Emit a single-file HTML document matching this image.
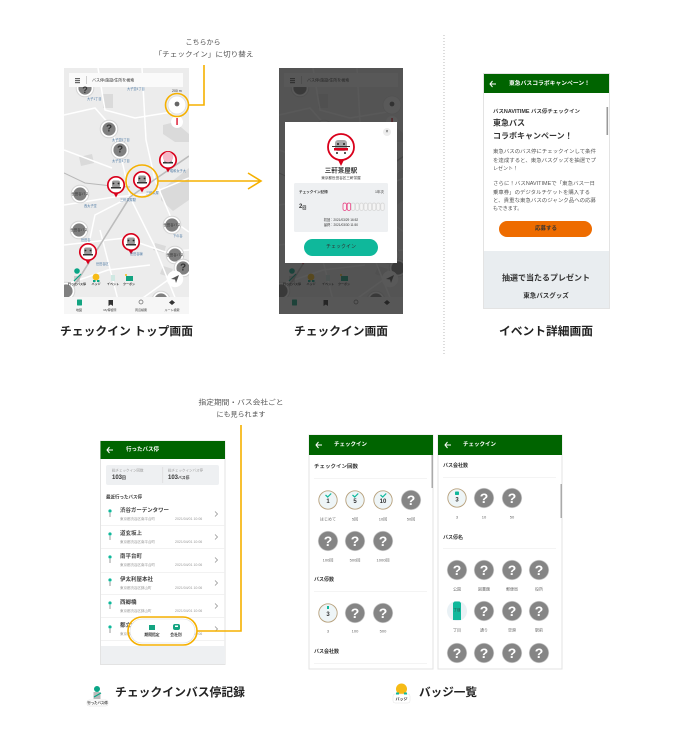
<!DOCTYPE html>
<html lang="ja"><head><meta charset="utf-8"><title>チェックイン</title>
<style>
html,body{margin:0;padding:0;background:#fff;width:674px;height:738px;overflow:hidden}
svg{display:block}
text{font-family:"Liberation Sans","Noto Sans CJK JP",sans-serif;dominant-baseline:central;fill:#333}
.b{font-weight:700}.m{text-anchor:middle}.e{text-anchor:end}
.cap{font-size:11.5px;font-weight:700;fill:#222}
.note{font-size:7px;fill:#555}
.h{font-size:5.5px;font-weight:700;fill:#fff}
.sec{font-size:5px;font-weight:700;fill:#333}
.lb{font-size:4px;fill:#666;text-anchor:middle}
.q{font-size:14px;font-weight:700;fill:#fff;text-anchor:middle}
.ml{font-size:3.2px;fill:#4f7ba5}
.n{font-size:5.5px;font-weight:700;fill:#444}
.s{font-size:3.5px;fill:#999}
.p{font-size:5px;fill:#555}
.y{stroke:#f5b000;fill:none;stroke-width:1.6}
</style></head><body>
<svg width="674" height="738" viewBox="0 0 674 738" xmlns="http://www.w3.org/2000/svg">
<defs>
<clipPath id="c1"><rect x="64" y="68" width="125" height="246"/></clipPath>
<clipPath id="c2"><rect x="279" y="68" width="124" height="246"/></clipPath>
<g id="qb"><circle r="10.2" fill="#eee"/><circle r="9.6" fill="#858585" stroke="#bbb" stroke-width=".6"/></g>
<g id="sb"><circle r="8.8" fill="#fff" stroke="#d5d5d5" stroke-width="1"/><circle r="6.6" fill="#808080"/></g>
<g id="pin"><path d="M-2.5 8L0 12.5L2.5 8z" fill="#d9001b"/><circle r="8.2" fill="#fff" stroke="#d9001b" stroke-width="1.7"/><rect x="-4" y="-4.5" width="8" height="7" rx="2" fill="#999"/><rect x="-5" y="2" width="10" height="1.5" fill="#333"/><circle cx="-2.5" cy="-1.5" r=".9" fill="#222"/><circle cx="2.5" cy="-1.5" r=".9" fill="#222"/></g>
<g id="map">
<rect x="64" y="68" width="125" height="246" fill="#ececec"/>
<g fill="#dadada"><path d="M103 94h10v14h-10z"/><path d="M79 157l13-3 2 9-13 3z"/><path d="M163 125l12-3 14 12v8h-14l-12-8z"/><path d="M161 190l28-22v32l-16 11-12-11z"/><path d="M155 243l11 3-2 7-11-3z"/><path d="M163 266l10 3-4 8-9-3z"/></g>
<g fill="none" stroke="#fff" stroke-width="1.5"><path d="M64 115L95 108L110 125L123 165L130 197L154 245L176 300"/><path d="M64 205L114 197L150 194L189 178"/><path d="M64 245L125 238L165 252L189 250"/><path d="M98 68L105 110L135 118L172 112"/><path d="M130 197L95 215L85 262"/><path d="M142 68L146 140L155 180"/><path d="M64 285L108 270L150 265"/><path d="M155 180L172 220L189 232"/><path d="M112 168L64 150"/><path d="M175 275L140 300"/><path d="M100 230L118 300"/></g>
<path d="M64 173L85 183L112 186L130 187" fill="none" stroke="#b8b8b8" stroke-width="1"/>
<path d="M189 156L154 180L130 197L100 245L73 288" fill="none" stroke="#bcbcbc" stroke-width="1.6"/>
<use href="#sb" x="85" y="88"/><use href="#sb" x="109" y="129"/><use href="#sb" x="120" y="150"/><use href="#sb" x="80" y="194"/><use href="#sb" x="79" y="230"/><use href="#sb" x="172" y="225"/><use href="#sb" x="175" y="255"/><use href="#sb" x="183" y="268"/><use href="#sb" x="161" y="300"/><use href="#sb" x="66" y="291"/>
<use href="#pin" x="168" y="160"/><use href="#pin" x="116" y="185"/><use href="#pin" x="142" y="180"/><use href="#pin" x="131" y="242"/><use href="#pin" x="88" y="252"/>
<circle cx="168" cy="157" r="5.2" fill="#f5b8c8"/>
<rect x="69" y="73" width="114" height="14" fill="#fafafa"/>
<rect x="75" y="78" width="5" height="1.2" fill="#666"/><rect x="75" y="80" width="5" height="1.2" fill="#666"/><rect x="75" y="82" width="5" height="1.2" fill="#666"/><rect x="86" y="76" width=".7" height="8" fill="#bbb"/>
<circle cx="177" cy="105" r="9" fill="#fff" stroke="#ddd" stroke-width=".8"/><circle cx="177" cy="104" r="2.4" fill="#666"/>
<circle cx="177" cy="122" r="6" fill="#fff"/><rect x="176.4" y="118" width="1.3" height="7" fill="#d9001b"/>
<circle cx="175" cy="279" r="8.2" fill="#fff"/><path d="M171 279L179 275L176 283L175 279.5z" fill="#555"/>
<circle cx="77" cy="271" r="2.8" fill="#0aa586"/><rect x="74" y="276" width="6" height="6" fill="#aaa" opacity=".5"/><path d="M74 281L81 274" stroke="#0aa586" stroke-width="1.2"/>
<circle cx="96" cy="277" r="3.4" fill="#f6bb16"/><rect x="93" y="280" width="2.5" height="2" fill="#0aa586"/><rect x="97" y="280" width="2.5" height="2" fill="#0aa586"/>
<rect x="111" y="275" width="4" height="6" fill="#cfe8e2"/>
<rect x="126" y="276" width="7" height="5" fill="#13a481"/><circle cx="126" cy="275" r="1" fill="#f6bb16"/>
<rect x="64" y="297" width="125" height="17" fill="#f6f6f6"/>
<rect x="77" y="299.5" width="5" height="6" rx=".6" fill="#13a481"/><path d="M108.5 300h4.500v6l-2.200-1.500-2.300 1.500z" fill="#333"/>
<circle cx="141" cy="302" r="2" fill="none" stroke="#666" stroke-width=".7"/><path d="M172 300l3 2.500-3 2.500-3-2.500z" fill="#333"/>
</g>
</defs>

<!-- notes top -->
<text x="203" y="43" class="note m">こちらから</text>
<text x="204" y="55" class="note m" textLength="99" lengthAdjust="spacingAndGlyphs">「チェックイン」に切り替え</text>

<!-- Screen 1 -->
<g clip-path="url(#c1)"><use href="#map"/>
<text x="92" y="80" font-size="4" fill="#aaa">バス停/施設/住所を検索</text>
<text x="127" y="89" class="ml">大子堂4丁目</text><text x="87" y="99" class="ml">大子1丁目</text><text x="112" y="140" class="ml">太子堂5丁目</text><text x="112" y="161" class="ml">太子堂4丁目</text>
<text x="120" y="200" class="ml">三軒茶屋駅</text><text x="146" y="193" class="ml">三軒茶屋</text><text x="84" y="206" class="ml">西太子堂</text><text x="81" y="240" class="ml">世田谷</text>
<text x="96" y="264" class="ml">世田谷区</text><text x="130" y="254" class="ml">世田谷線</text><text x="170" y="171" class="ml">昭和女子大</text><text x="173" y="236" class="ml">下の谷</text>
<text x="172" y="91" font-size="3.5" fill="#333">200 m</text>
<text x="77" y="284" font-size="3" class="m b" fill="#333">行ったバス停</text><text x="96" y="284" font-size="3" class="m b" fill="#333">バッジ</text><text x="113" y="284" font-size="3" class="m b" fill="#333">イベント</text><text x="129" y="284" font-size="3" class="m b" fill="#333">クーポン</text>
<text x="79" y="310" font-size="3" class="m" fill="#13a481">地図</text><text x="110" y="310" font-size="3" class="m" fill="#666">My停留所</text><text x="141" y="310" font-size="3" class="m" fill="#666">周辺検索</text><text x="172" y="310" font-size="3" class="m" fill="#666">ルート検索</text>
<text x="85" y="90" class="m b" font-size="9" fill="#fff">?</text><text x="109" y="129" class="m b" font-size="10" fill="#fff">?</text><text x="120" y="150" class="m b" font-size="10" fill="#fff">?</text><text x="183" y="268" class="m b" font-size="10" fill="#fff">?</text>
<text x="80" y="194" class="m" font-size="3.5" fill="#fff">世田谷バス</text><text x="79" y="230" class="m" font-size="3.5" fill="#fff">世田谷バス</text><text x="172" y="225" class="m" font-size="3.5" fill="#fff">世田谷バス</text><text x="175" y="255" class="m" font-size="3.5" fill="#fff">世田谷バス</text>
</g>
<text x="60" y="332" class="cap" textLength="133" lengthAdjust="spacingAndGlyphs">チェックイン トップ画面</text>

<!-- highlights -->
<circle cx="177" cy="105" r="11.5" class="y"/>
<path d="M188.5 105H204V65" class="y"/>
<circle cx="142" cy="181" r="16" class="y"/>
<path d="M158 181H261M248 173L261 181L248 189" class="y"/>

<!-- Screen 2 -->
<g clip-path="url(#c2)"><use href="#map" x="215"/>
<text x="307" y="80" font-size="4" fill="#aaa">バス停/施設/住所を検索</text>
<text x="292" y="284" font-size="3" class="m b" fill="#333">行ったバス停</text><text x="311" y="284" font-size="3" class="m b" fill="#333">バッジ</text><text x="328" y="284" font-size="3" class="m b" fill="#333">イベント</text><text x="344" y="284" font-size="3" class="m b" fill="#333">クーポン</text>
<rect x="279" y="68" width="124" height="246" fill="#222" opacity=".75"/></g>
<rect x="285" y="122" width="112" height="141" fill="#fff"/>
<circle cx="387" cy="132" r="4" fill="#eee"/><text x="387" y="132" class="m" font-size="5" fill="#555">×</text>
<path d="M338 160L341 166L344 160z" fill="#d9001b"/>
<circle cx="341" cy="147" r="13" fill="#fff" stroke="#d9001b" stroke-width="1.8"/>
<rect x="335" y="140" width="12" height="11" rx="3" fill="#aaa"/><rect x="334" y="148" width="14" height="2.5" fill="#d9001b"/><rect x="332" y="146" width="18" height="1" fill="#333"/><circle cx="338" cy="144" r="1" fill="#222"/><circle cx="344" cy="144" r="1" fill="#222"/><circle cx="337" cy="153" r="1" fill="#222"/><circle cx="345" cy="153" r="1" fill="#222"/>
<text x="341" y="171" class="m b" font-size="6.5" fill="#222">三軒茶屋駅</text>
<text x="341" y="178" class="m" font-size="3.6" fill="#444">東京都世田谷区三軒茶屋</text>
<rect x="294" y="183" width="94" height="49" rx="1.5" fill="#eef0f2"/>
<text x="299" y="192" class="b" font-size="3.6" fill="#333">チェックイン記録</text><text x="384" y="192" class="e" font-size="3.5" fill="#888">1年次</text>
<text x="299" y="207" class="b" font-size="6" fill="#222">2<tspan font-size="4">回</tspan></text>
<g fill="#f4f4f4" stroke="#d5d5d5" stroke-width=".7"><rect x="343" y="203" width="3.4" height="7.5" rx="1.7" stroke="#e8357c"/><rect x="347.2" y="203" width="3.4" height="7.5" rx="1.7" stroke="#e8357c"/><rect x="351.4" y="203" width="3.4" height="7.5" rx="1.7"/><rect x="355.6" y="203" width="3.4" height="7.5" rx="1.7"/><rect x="359.8" y="203" width="3.4" height="7.5" rx="1.7"/><rect x="364" y="203" width="3.4" height="7.5" rx="1.7"/><rect x="368.2" y="203" width="3.4" height="7.5" rx="1.7"/><rect x="372.4" y="203" width="3.4" height="7.5" rx="1.7"/><rect x="376.6" y="203" width="3.4" height="7.5" rx="1.7"/><rect x="380.8" y="203" width="3.4" height="7.5" rx="1.7"/></g>
<text x="341" y="220" class="m" font-size="3.2" fill="#888">初回：2021/03/29 16:52</text>
<text x="341" y="225" class="m" font-size="3.2" fill="#888">最終：2021/03/30 11:50</text>
<rect x="304" y="239" width="74" height="17" rx="8.5" fill="#0fb89b"/>
<text x="341" y="247" class="m" font-size="5" fill="#fff">チェックイン</text>
<text x="294" y="332" class="cap" textLength="94" lengthAdjust="spacingAndGlyphs">チェックイン画面</text>

<!-- dotted divider -->
<line x1="444" y1="35" x2="444" y2="354" stroke="#aaa" stroke-width=".8" stroke-dasharray="1 2"/>

<!-- Screen 3 -->
<rect x="483.5" y="73.5" width="126" height="235" fill="#fff" stroke="#e3e3e3"/>
<rect x="484" y="74" width="125" height="19" fill="#006400"/>
<path d="M490 84H496M492.5 81L490 84L492.5 87" stroke="#fff" fill="none" stroke-width="1"/>
<text x="509" y="84" class="h" textLength="81" lengthAdjust="spacingAndGlyphs">東急バスコラボキャンペーン！</text>
<rect x="606.5" y="107" width="1.6" height="28" fill="#999"/>
<text x="493" y="112" class="b" font-size="5" fill="#333" textLength="87" lengthAdjust="spacingAndGlyphs">バスNAVITIME バス停チェックイン</text>
<text x="493" y="123" class="b" font-size="8" fill="#222">東急バス</text>
<text x="493" y="136" class="b" font-size="8" fill="#222">コラボキャンペーン！</text>
<text x="493" y="152" class="p" textLength="103" lengthAdjust="spacingAndGlyphs">東急バスのバス停にチェックインして条件</text>
<text x="493" y="161" class="p" textLength="103" lengthAdjust="spacingAndGlyphs">を達成すると、東急バスグッズを抽選でプ</text>
<text x="493" y="169" class="p">レゼント！</text>
<text x="493" y="184" class="p" textLength="102" lengthAdjust="spacingAndGlyphs">さらに！バスNAVITIMEで「東急バス一日</text>
<text x="493" y="193" class="p" textLength="97" lengthAdjust="spacingAndGlyphs">乗車券」のデジタルチケットを購入する</text>
<text x="493" y="201" class="p" textLength="103" lengthAdjust="spacingAndGlyphs">と、貴重な東急バスのジャンク品への応募</text>
<text x="493" y="209" class="p">もできます。</text>
<rect x="499" y="221" width="93" height="16" rx="8" fill="#ee6c00"/>
<text x="546" y="229" class="m b" font-size="5.5" fill="#fff">応募する</text>
<rect x="484" y="251" width="125" height="57" fill="#e9edf0"/>
<text x="546" y="278" class="m b" font-size="8" fill="#333">抽選で当たるプレゼント</text>
<text x="546" y="296" class="m b" font-size="6.5" fill="#333">東急バスグッズ</text>
<text x="499" y="332" class="cap" textLength="94" lengthAdjust="spacingAndGlyphs">イベント詳細画面</text>

<!-- note bottom -->
<text x="241" y="403" class="note m" textLength="85" lengthAdjust="spacingAndGlyphs">指定期間・バス会社ごと</text>
<text x="241" y="415" class="note m">にも見られます</text>

<!-- Screen 4 -->
<rect x="100.5" y="441" width="124.5" height="223.5" fill="#fff" stroke="#e3e3e3"/>
<rect x="100.5" y="441" width="124.5" height="18" fill="#006400"/>
<path d="M107 450H113M109.5 447L107 450L109.5 453" stroke="#fff" fill="none" stroke-width="1"/>
<text x="126" y="450" class="h">行ったバス停</text>
<rect x="106" y="465" width="113" height="20" rx="2" fill="#eef0f2"/><rect x="162.5" y="467" width=".6" height="16" fill="#d5d5d5"/>
<text x="112" y="470.5" class="s">総チェックイン回数</text><text x="112" y="478" class="b" font-size="6" fill="#222">103<tspan font-size="3.8">回</tspan></text>
<text x="168" y="470.5" class="s">総チェックインバス停</text><text x="168" y="478" class="b" font-size="6" fill="#222">103<tspan font-size="3.8">バス停</tspan></text>
<text x="106" y="497" class="b" font-size="4.5" fill="#333">最近行ったバス停</text>
<g fill="#eee"><rect x="101" y="525" width="124" height=".8"/><rect x="101" y="548" width="124" height=".8"/><rect x="101" y="572" width="124" height=".8"/><rect x="101" y="594" width="124" height=".8"/><rect x="101" y="617" width="124" height=".8"/><rect x="101" y="640" width="124" height=".8"/></g>
<g fill="#0fb89b"><circle cx="110" cy="511" r="1.6"/><circle cx="110" cy="534" r="1.6"/><circle cx="110" cy="557" r="1.6"/><circle cx="110" cy="580" r="1.6"/><circle cx="110" cy="603" r="1.6"/><circle cx="110" cy="627" r="1.6"/></g>
<g fill="#999"><rect x="109.5" y="513" width="1" height="4"/><rect x="109.5" y="536" width="1" height="4"/><rect x="109.5" y="559" width="1" height="4"/><rect x="109.5" y="582" width="1" height="4"/><rect x="109.5" y="605" width="1" height="4"/><rect x="109.5" y="629" width="1" height="4"/></g>
<text x="120" y="511" class="n" textLength="49" lengthAdjust="spacingAndGlyphs">渋谷ガーデンタワー</text><text x="120" y="519" class="s">東京都渋谷区南平台町</text><text x="175" y="519" class="s">2021/04/01 10:06</text>
<text x="120" y="534" class="n">道玄坂上</text><text x="120" y="542" class="s">東京都渋谷区南平台町</text><text x="175" y="542" class="s">2021/04/01 10:06</text>
<text x="120" y="557" class="n">南平台町</text><text x="120" y="565" class="s">東京都渋谷区南平台町</text><text x="175" y="565" class="s">2021/04/01 10:06</text>
<text x="120" y="580" class="n">伊太利屋本社</text><text x="120" y="588" class="s">東京都渋谷区鉢山町</text><text x="175" y="588" class="s">2021/04/01 10:06</text>
<text x="120" y="603" class="n">西郷橋</text><text x="120" y="611" class="s">東京都渋谷区鉢山町</text><text x="175" y="611" class="s">2021/04/01 10:06</text>
<text x="120" y="626" class="n">都立大</text><text x="120" y="634" class="s">東京都</text><text x="175" y="634" class="s">2021/04/01 10:06</text>
<path d="M215 511.5L217.5 514L215 516.5M215 534.5L217.5 537L215 539.5M215 557.5L217.500 560L215 562.500M215 580.5L217.5 583L215 585.5M215 603.5L217.5 606L215 608.5M215 626.5L217.5 629L215 631.5" fill="none" stroke="#888" stroke-width=".7"/>
<rect x="101" y="646" width="124" height="18" fill="#eef0f2"/>
<rect x="130" y="619" width="65" height="24" rx="12" fill="#fff" stroke="#ddd" stroke-width=".6"/>
<rect x="149" y="625" width="6" height="5" fill="#13a481"/><rect x="173" y="624" width="7" height="6" rx="2" fill="#13a481"/><rect x="175" y="625.5" width="3" height="1.5" fill="#fff"/>
<text x="152" y="635" class="m b" font-size="3.8" fill="#333">期間指定</text><text x="176" y="635" class="m b" font-size="3.8" fill="#333">会社別</text>
<rect x="128" y="617" width="69" height="28" rx="14" class="y"/>
<path d="M197 631H241V425" class="y"/>
<circle cx="97" cy="689" r="3" fill="#0aa586"/><rect x="93.5" y="692" width="7" height="7" fill="#bbb"/><path d="M94 697L101 693" stroke="#0aa586" stroke-width="1.2"/><rect x="87" y="700" width="21" height="6" rx="2" fill="#fff" stroke="#ddd" stroke-width=".5"/>
<text x="97.5" y="703" class="m b" font-size="3.4" fill="#222">行ったバス停</text>
<text x="115" y="693" class="cap" textLength="130" lengthAdjust="spacingAndGlyphs">チェックインバス停記録</text>

<!-- Screen 5 -->
<rect x="309" y="435" width="124" height="234" fill="#fff" stroke="#e3e3e3"/>
<rect x="309" y="435" width="124" height="20" fill="#006400"/>
<path d="M316 445H322M318.500 442L316 445L318.500 448" stroke="#fff" fill="none" stroke-width="1"/>
<text x="334" y="445" class="h">チェックイン</text>
<rect x="431.5" y="455" width="1.5" height="33" fill="#aaa"/>
<text x="314" y="467" class="sec" textLength="44" lengthAdjust="spacingAndGlyphs">チェックイン回数</text><rect x="314" y="478" width="113" height=".7" fill="#f0f0f0"/>
<g fill="#eef5f7" stroke="#b8a27e" stroke-width=".9"><circle cx="328" cy="500" r="9.2"/><circle cx="355" cy="500" r="9.2"/><circle cx="383" cy="500" r="9.2"/><circle cx="328" cy="613" r="9.2"/></g>
<path d="M325.500 495l2.200 2 3.500-3.500M352.500 495l2.200 2 3.500-3.500M380.500 495l2.200 2 3.500-3.500" fill="none" stroke="#0fb89b" stroke-width="1.2"/>
<g font-size="6" font-weight="700" text-anchor="middle"><text x="328" y="502" fill="#8a6d3b">1</text><text x="355" y="502" fill="#8a6d3b">5</text><text x="383" y="502" fill="#8a6d3b">10</text><text x="328" y="615" fill="#8a6d3b">3</text></g>
<rect x="327" y="606" width="2" height="3" fill="#0fb89b"/>
<use href="#qb" x="411" y="500"/><use href="#qb" x="328" y="541"/><use href="#qb" x="355" y="541"/><use href="#qb" x="383" y="541"/><use href="#qb" x="355" y="613"/><use href="#qb" x="383" y="613"/>
<text x="411" y="500" class="q">?</text><text x="328" y="541" class="q">?</text><text x="355" y="541" class="q">?</text><text x="383" y="541" class="q">?</text><text x="355" y="613" class="q">?</text><text x="383" y="613" class="q">?</text>
<text x="328" y="519" class="lb">はじめて</text><text x="355" y="519" class="lb">5回</text><text x="383" y="519" class="lb">10回</text><text x="411" y="519" class="lb">50回</text>
<text x="328" y="560" class="lb">100回</text><text x="355" y="560" class="lb">500回</text><text x="383" y="560" class="lb">1000回</text>
<text x="314" y="580" class="sec">バス停数</text><rect x="314" y="591" width="113" height=".7" fill="#f0f0f0"/>
<text x="328" y="631" class="lb">3</text><text x="355" y="631" class="lb">100</text><text x="383" y="631" class="lb">500</text>
<text x="314" y="652" class="sec">バス会社数</text><rect x="314" y="663" width="113" height=".7" fill="#f0f0f0"/>

<!-- Screen 6 -->
<rect x="438" y="435" width="124" height="234" fill="#fff" stroke="#e3e3e3"/>
<rect x="438" y="435" width="124" height="20" fill="#006400"/>
<path d="M445 445H451M447.500 442L445 445L447.500 448" stroke="#fff" fill="none" stroke-width="1"/>
<text x="463" y="445" class="h">チェックイン</text>
<rect x="560.5" y="484" width="1.5" height="34" fill="#aaa"/>
<text x="443" y="466" class="sec">バス会社数</text><rect x="443" y="477" width="113" height=".7" fill="#f0f0f0"/>
<circle cx="457" cy="498" r="9.2" fill="#eef5f7" stroke="#b8a27e" stroke-width=".9"/><rect x="455" y="491.5" width="4" height="3.5" rx=".8" fill="#0fb89b"/><text x="457" y="500.5" class="m b" font-size="6" fill="#8a6d3b">3</text>
<use href="#qb" x="484" y="498"/><use href="#qb" x="512" y="498"/>
<text x="484" y="498" class="q">?</text><text x="512" y="498" class="q">?</text>
<text x="457" y="517" class="lb">3</text><text x="484" y="517" class="lb">10</text><text x="512" y="517" class="lb">50</text>
<text x="443" y="538" class="sec">バス停名</text><rect x="443" y="548" width="113" height=".7" fill="#f0f0f0"/>
<use href="#qb" x="457" y="570"/><use href="#qb" x="484" y="570"/><use href="#qb" x="512" y="570"/><use href="#qb" x="539" y="570"/>
<text x="457" y="570" class="q">?</text><text x="484" y="570" class="q">?</text><text x="512" y="570" class="q">?</text><text x="539" y="570" class="q">?</text>
<text x="457" y="589" class="lb">公園</text><text x="484" y="589" class="lb">図書館</text><text x="512" y="589" class="lb">郵便局</text><text x="539" y="589" class="lb">役所</text>
<circle cx="457" cy="611" r="10" fill="#e9f1f5"/><path d="M453 603l1.500-1.500h5l1.500 1.500v17h-8z" fill="#0fb89b"/><text x="457" y="610" class="m" font-size="3.500" fill="#fff">丁目</text>
<use href="#qb" x="484" y="611"/><use href="#qb" x="512" y="611"/><use href="#qb" x="539" y="611"/>
<text x="484" y="611" class="q">?</text><text x="512" y="611" class="q">?</text><text x="539" y="611" class="q">?</text>
<text x="457" y="630" class="lb">丁目</text><text x="484" y="630" class="lb">通り</text><text x="512" y="630" class="lb">空港</text><text x="539" y="630" class="lb">駅前</text>
<use href="#qb" x="457" y="653"/><use href="#qb" x="484" y="653"/><use href="#qb" x="512" y="653"/><use href="#qb" x="539" y="653"/>
<text x="457" y="653" class="q">?</text><text x="484" y="653" class="q">?</text><text x="512" y="653" class="q">?</text><text x="539" y="653" class="q">?</text>

<circle cx="401.5" cy="689" r="5.5" fill="#f6bb16"/><rect x="393" y="694" width="17" height="9" rx="2" fill="#fff" stroke="#e5e5e5" stroke-width=".5"/><rect x="396" y="692.5" width="3" height="2" fill="#0fb89b"/><rect x="404" y="692.5" width="3" height="2" fill="#0fb89b"/>
<text x="401.5" y="699" class="m b" font-size="4" fill="#222">バッジ</text>
<text x="419" y="693" class="cap" textLength="58" lengthAdjust="spacingAndGlyphs">バッジ一覧</text>
</svg>
</body></html>
